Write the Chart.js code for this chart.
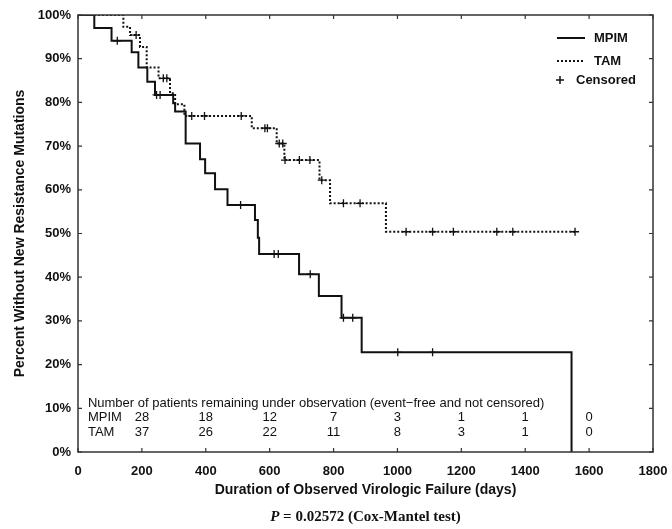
<!DOCTYPE html>
<html lang="en">
<head>
  <meta charset="UTF-8">
  <title>Time to new resistance mutations</title>
  <script src="https://cdn.jsdelivr.net/npm/chart.js"></script>
  <style>
    body { margin: 0; background: #fff; }
  </style>
</head>
<body>
  <canvas id="kmChart" width="672" height="529"></canvas>
  <script>
    // Kaplan-Meier steps: day of event, percent event-free right after it
    const mpimDays = [0, 51, 105, 168, 189, 217, 241, 298, 304, 337, 382, 398, 429, 468, 554, 563, 567, 692, 754, 825, 888, 1545];
    const mpimPct  = [100, 97.0, 94.1, 91.5, 88.0, 84.7, 81.7, 79.8, 77.9, 70.6, 67.0, 63.8, 60.1, 56.5, 53.1, 49.0, 45.3, 40.7, 35.7, 30.7, 22.8, 0];
    const tamDays  = [0, 142, 163, 194, 215, 252, 288, 304, 333, 544, 622, 646, 756, 789, 964, 1556];
    const tamPct   = [100, 97.3, 95.4, 92.7, 88.0, 85.5, 82.1, 79.6, 76.9, 74.1, 70.6, 66.8, 62.2, 56.9, 50.4, 50.4];

    // censored observations
    const mpimCensDays = [123, 246, 257, 509, 614, 627, 727, 831, 860, 1001, 1110];
    const mpimCensPct  = [94.1, 81.7, 81.7, 56.5, 45.3, 45.3, 40.7, 30.7, 30.7, 22.8, 22.8];
    const tamCensDays  = [182, 267, 278, 356, 396, 511, 585, 593, 630, 641, 648, 693, 726, 763, 831, 883, 1027, 1110, 1175, 1311, 1361, 1556];
    const tamCensPct   = [95.4, 85.5, 85.5, 76.9, 76.9, 76.9, 74.1, 74.1, 70.6, 70.6, 66.8, 66.8, 66.8, 62.2, 56.9, 56.9, 50.4, 50.4, 50.4, 50.4, 50.4, 50.4];

    // number at risk table
    const riskDays = [200, 400, 600, 800, 1000, 1200, 1400, 1600];
    const riskMpim = [28, 18, 12, 7, 3, 1, 1, 0];
    const riskTam  = [37, 26, 22, 11, 8, 3, 1, 0];

    const SANS = '"Liberation Sans", Arial, sans-serif';
    const toXY = (xs, ys) => xs.map((x, i) => ({ x: x, y: ys[i] }));

    // frame with inward ticks on all four sides
    const framePlugin = {
      id: 'frame',
      afterDraw(chart) {
        const { ctx, chartArea: a, scales: { x, y } } = chart;
        ctx.save();
        ctx.strokeStyle = '#333';
        ctx.lineWidth = 1.5;
        ctx.strokeRect(a.left, a.top, a.right - a.left, a.bottom - a.top);
        ctx.lineWidth = 1.2;
        ctx.beginPath();
        x.ticks.forEach(t => {
          const px = x.getPixelForValue(t.value);
          ctx.moveTo(px, a.bottom); ctx.lineTo(px, a.bottom - 4);
          ctx.moveTo(px, a.top); ctx.lineTo(px, a.top + 4);
        });
        y.ticks.forEach(t => {
          const py = y.getPixelForValue(t.value);
          ctx.moveTo(a.left, py); ctx.lineTo(a.left + 4, py);
          ctx.moveTo(a.right, py); ctx.lineTo(a.right - 4, py);
        });
        ctx.stroke();
        ctx.restore();
      }
    };

    // legend, at-risk table and the p-value line
    const notesPlugin = {
      id: 'notes',
      afterDraw(chart) {
        const { ctx, chartArea: a, scales: { x, y } } = chart;
        ctx.save();
        ctx.fillStyle = '#111';
        ctx.strokeStyle = '#111';

        // legend
        ctx.font = 'bold 13px ' + SANS;
        ctx.textBaseline = 'middle';
        ctx.textAlign = 'left';
        const lx = a.right - 96;
        ctx.lineWidth = 2;
        ctx.beginPath(); ctx.moveTo(lx, 38); ctx.lineTo(lx + 28, 38); ctx.stroke();
        ctx.fillText('MPIM', lx + 37, 38);
        ctx.setLineDash([2, 2]);
        ctx.beginPath(); ctx.moveTo(lx, 61); ctx.lineTo(lx + 26, 61); ctx.stroke();
        ctx.setLineDash([]);
        ctx.fillText('TAM', lx + 37, 61);
        ctx.lineWidth = 1.5;
        ctx.beginPath();
        ctx.moveTo(lx + 3, 76); ctx.lineTo(lx + 3, 84);
        ctx.moveTo(lx - 1, 80); ctx.lineTo(lx + 7, 80);
        ctx.stroke();
        ctx.fillText('Censored', lx + 19, 80);

        // number at risk
        ctx.font = '13px ' + SANS;
        const left = x.getPixelForValue(31);
        ctx.fillText('Number of patients remaining under observation (event\u2212free and not censored)', left, y.getPixelForValue(11.2));
        ctx.fillText('MPIM', left, y.getPixelForValue(7.8));
        ctx.fillText('TAM', left, y.getPixelForValue(4.4));
        ctx.textAlign = 'center';
        riskDays.forEach((d, i) => {
          ctx.fillText(String(riskMpim[i]), x.getPixelForValue(d), y.getPixelForValue(7.8));
          ctx.fillText(String(riskTam[i]), x.getPixelForValue(d), y.getPixelForValue(4.4));
        });

        // p-value
        const pFont = 'italic bold 15px "Liberation Serif", "Times New Roman", serif';
        const restFont = 'bold 15px "Liberation Serif", "Times New Roman", serif';
        const rest = ' = 0.02572 (Cox-Mantel test)';
        ctx.font = pFont;
        const wP = ctx.measureText('P').width;
        ctx.font = restFont;
        const wR = ctx.measureText(rest).width;
        const cx = (a.left + a.right) / 2;
        const sx = cx - (wP + wR) / 2;
        ctx.textAlign = 'left';
        ctx.font = pFont;
        ctx.fillText('P', sx, 517);
        ctx.font = restFont;
        ctx.fillText(rest, sx + wP, 517);
        ctx.restore();
      }
    };

    new Chart(document.getElementById('kmChart'), {
      type: 'line',
      data: {
        datasets: [
          {
            label: 'MPIM',
            data: toXY(mpimDays, mpimPct),
            stepped: 'before',
            borderColor: '#111',
            borderWidth: 2,
            pointRadius: 0,
            fill: false
          },
          {
            label: 'TAM',
            data: toXY(tamDays, tamPct),
            stepped: 'before',
            borderColor: '#111',
            borderWidth: 2,
            borderDash: [2, 2],
            pointRadius: 0,
            fill: false
          },
          {
            label: 'Censored MPIM',
            type: 'scatter',
            data: toXY(mpimCensDays, mpimCensPct),
            pointStyle: 'cross',
            pointRadius: 4,
            borderColor: '#111',
            borderWidth: 1.3
          },
          {
            label: 'Censored TAM',
            type: 'scatter',
            data: toXY(tamCensDays, tamCensPct),
            pointStyle: 'cross',
            pointRadius: 4,
            borderColor: '#111',
            borderWidth: 1.3
          }
        ]
      },
      options: {
        responsive: false,
        animation: false,
        layout: { padding: { top: 15, right: 19, bottom: 25, left: 0 } },
        plugins: {
          legend: { display: false },
          tooltip: { enabled: false }
        },
        scales: {
          x: {
            type: 'linear',
            min: 0,
            max: 1800,
            ticks: { stepSize: 200, padding: 12, color: '#111', font: { family: SANS, size: 13, weight: 'bold' }, callback: v => String(v) },
            grid: { display: false, drawTicks: false },
            border: { display: false },
            title: {
              display: true,
              text: 'Duration of Observed Virologic Failure (days)',
              color: '#111',
              font: { family: SANS, size: 14, weight: 'bold' },
              padding: { top: 0, bottom: 5 }
            },
            afterFit(scale) {
              scale.height = 52;
              scale.paddingLeft = 0;
              scale.paddingRight = 0;
            }
          },
          y: {
            min: 0,
            max: 100,
            ticks: { stepSize: 10, padding: 7, color: '#111', font: { family: SANS, size: 13, weight: 'bold' }, callback: v => v + '%' },
            grid: { display: false, drawTicks: false },
            border: { display: false },
            title: {
              display: true,
              text: 'Percent Without New Resistance Mutations',
              color: '#111',
              font: { family: SANS, size: 14, weight: 'bold' },
              padding: { top: 12, bottom: 0 }
            },
            afterFit(scale) { scale.width = 78; }
          }
        }
      },
      plugins: [framePlugin, notesPlugin]
    });
  </script>
</body>
</html>
